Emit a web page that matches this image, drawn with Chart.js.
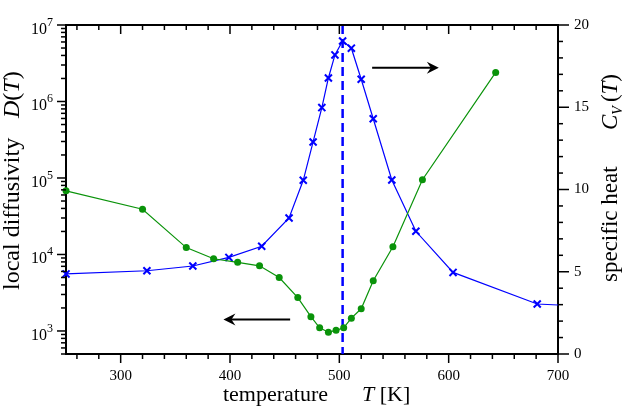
<!DOCTYPE html>
<html><head><meta charset="utf-8">
<script src="https://cdn.jsdelivr.net/npm/chart.js@4"></script>
<style>html,body{margin:0;padding:0;background:#fff;}#wrap{position:relative;width:623px;height:409px;}</style>
</head><body><div id="wrap"><canvas id="c" width="623" height="409"></canvas></div>
<script>
// ---- data ----
const cvT      = [250, 324, 366, 399, 429, 454, 467, 476, 484, 490, 496, 503, 511, 520, 531, 548, 570, 604, 681, 700];
const cvValues = [4.87, 5.06, 5.35, 5.87, 6.55, 8.27, 10.56, 12.89, 14.98, 16.78, 18.18, 19.03, 18.59, 16.70, 14.30, 10.58, 7.46, 4.96, 3.04, 2.98];
const dT       = [250, 320, 360, 385, 407, 427, 445, 462, 474, 482, 490, 497, 504, 511, 520, 531, 549, 576, 643];
const dValues  = [68000, 39000, 12300, 8800, 7900, 7100, 5000, 2730, 1540, 1100, 964, 1020, 1100, 1470, 1950, 4540, 12600, 95000, 2400000];
const xTickLabels  = [300, 400, 500, 600, 700];
const dTickLabels  = [1e3, 1e4, 1e5, 1e6, 1e7];
const cvTickLabels = [0, 5, 10, 15, 20];
const transitionT = 503;
const arrowLeft  = {fromT: 455, toT: 394, value: 1410};   // on D(T) axis
const arrowRight = {fromT: 530, toT: 591, value: 17.4};   // on C_V axis

const FONT = '"Liberation Serif", "Times New Roman", serif';
const GREEN = '#0a930a';
const BLUE = '#0000ff';

function line(ctx, x1, y1, x2, y2){ctx.beginPath();ctx.moveTo(x1,y1);ctx.lineTo(x2,y2);ctx.stroke();}
function arrow(ctx, x1, y, x2){
  ctx.save();
  ctx.strokeStyle='#000'; ctx.fillStyle='#000'; ctx.lineWidth=2;
  const dir = Math.sign(x2-x1);
  line(ctx, x1, y, x2 - dir*6, y);
  ctx.beginPath();
  ctx.moveTo(x2, y);
  ctx.lineTo(x2 - dir*12, y-6);
  ctx.lineTo(x2 - dir*8, y);
  ctx.lineTo(x2 - dir*12, y+6);
  ctx.closePath(); ctx.fill();
  ctx.restore();
}

const decorPlugin = {
  id: 'decor',
  beforeDatasetsDraw(chart){
    const ctx = chart.ctx, a = chart.chartArea, x = chart.scales.x;
    const px = x.getPixelForValue(transitionT);
    ctx.save();
    ctx.strokeStyle = BLUE; ctx.lineWidth = 2.5; ctx.setLineDash([9,5]);
    line(ctx, px, a.top, px, a.bottom);
    ctx.restore();
  },
  afterDraw(chart){
    const ctx = chart.ctx, a = chart.chartArea;
    const x = chart.scales.x, yL = chart.scales.yL, yR = chart.scales.yR;
    ctx.save();
    ctx.strokeStyle = '#000';
    ctx.lineWidth = 2;
    line(ctx, a.left-1, a.top, a.right+1, a.top);
    ctx.lineWidth = 1.5;
    // x ticks: outward at bottom, inward at top
    for (let v = 260; v <= 700; v += 20) {
      const p = x.getPixelForValue(v);
      const len = (v % 100 === 0) ? 9 : 5;
      line(ctx, p, a.bottom, p, a.bottom + len);
      line(ctx, p, a.top, p, a.top + len);
    }
    // log ticks on left, outward
    for (let e = 2; e <= 7; e++) {
      for (let m = 1; m <= 9; m++) {
        const v = m * Math.pow(10, e);
        if (v < yL.min - 1e-9 || v > yL.max * 1.0001) continue;
        const p = yL.getPixelForValue(v);
        const len = (m === 1) ? 9 : 5;
        line(ctx, a.left - len, p, a.left, p);
      }
    }
    // right ticks, outward
    for (let v = 0; v <= 20; v++) {
      const p = yR.getPixelForValue(v);
      const len = (v % 5 === 0) ? 11 : 5;
      line(ctx, a.right, p, a.right + len, p);
    }
    // log tick labels 10^n
    ctx.fillStyle = '#000';
    dTickLabels.forEach(v => {
      const p = yL.getPixelForValue(v);
      const e = Math.round(Math.log10(v));
      ctx.font = '16px ' + FONT; ctx.textAlign = 'right'; ctx.textBaseline = 'alphabetic';
      ctx.fillText('10', 47, p + 9);
      ctx.font = '12px ' + FONT; ctx.textAlign = 'left';
      ctx.fillText(String(e), 47, p + 1);
    });
    // arrows
    arrow(ctx, x.getPixelForValue(arrowLeft.fromT), yL.getPixelForValue(arrowLeft.value), x.getPixelForValue(arrowLeft.toT));
    arrow(ctx, x.getPixelForValue(arrowRight.fromT), yR.getPixelForValue(arrowRight.value), x.getPixelForValue(arrowRight.toT));

    // axis titles
    // bottom
    ctx.textBaseline = 'alphabetic';
    ctx.font = '22px ' + FONT; ctx.textAlign = 'right';
    ctx.fillText('temperature', 328, 401);
    ctx.textAlign = 'left';
    ctx.font = 'italic 22px ' + FONT;
    ctx.fillText('T', 362, 401);
    let w = ctx.measureText('T').width;
    ctx.font = '22px ' + FONT;
    ctx.fillText(' [K]', 362 + w, 401);

    // left (rotated)
    ctx.save();
    ctx.translate(19, 290); ctx.rotate(-Math.PI/2);
    ctx.font = '24px ' + FONT; ctx.textAlign = 'left';
    ctx.fillText('local diffusivity', 0, 0);
    ctx.restore();
    ctx.save();
    ctx.translate(19, 118); ctx.rotate(-Math.PI/2);
    let cx = 0;
    const pieces = [['D', true], ['(', false], ['T', true], [')', false]];
    pieces.forEach(([t, it]) => {
      ctx.font = (it ? 'italic ' : '') + '24px ' + FONT;
      ctx.fillText(t, cx, 0); cx += ctx.measureText(t).width;
    });
    ctx.restore();

    // right (rotated)
    ctx.save();
    ctx.translate(617, 282); ctx.rotate(-Math.PI/2);
    ctx.font = '23px ' + FONT; ctx.textAlign = 'left';
    ctx.fillText('specific heat', 0, 0);
    ctx.restore();
    ctx.save();
    ctx.translate(617, 130); ctx.rotate(-Math.PI/2);
    cx = 0;
    ctx.font = 'italic 23px ' + FONT; ctx.fillText('C', cx, 0); cx += ctx.measureText('C').width;
    ctx.font = 'italic 14px ' + FONT; ctx.fillText('V', cx, 5); cx += ctx.measureText('V').width + 4;
    ctx.font = '23px ' + FONT; ctx.fillText('(', cx, 0); cx += ctx.measureText('(').width;
    ctx.font = 'italic 23px ' + FONT; ctx.fillText('T', cx, 0); cx += ctx.measureText('T').width;
    ctx.font = '23px ' + FONT; ctx.fillText(')', cx, 0);
    ctx.restore();

    ctx.restore();
  }
};

const lastIdx = cvT.length - 1;
new Chart(document.getElementById('c'), {
  type: 'line',
  data: {
    datasets: [
      {
        label: 'local diffusivity D(T)',
        data: dT.map((t, i) => ({x: t, y: dValues[i]})),
        yAxisID: 'yL',
        borderColor: GREEN, backgroundColor: GREEN,
        borderWidth: 1.2, pointRadius: 3.5, pointBorderWidth: 0, pointStyle: 'circle',
        tension: 0, clip: false
      },
      {
        label: 'specific heat C_V(T)',
        data: cvT.map((t, i) => ({x: t, y: cvValues[i]})),
        yAxisID: 'yR',
        borderColor: BLUE, backgroundColor: BLUE,
        borderWidth: 1.2, pointStyle: 'crossRot',
        pointRadius: c => (c.dataIndex === lastIdx ? 0 : 5),
        pointBorderWidth: 2,
        tension: 0, clip: false
      }
    ]
  },
  options: {
    responsive: false, animation: false, devicePixelRatio: 1,
    layout: {padding: {top: 10, left: 0, right: 0, bottom: 0}},
    plugins: {legend: {display: false}, tooltip: {enabled: false}},
    scales: {
      x: {
        type: 'linear', position: 'bottom', min: 250, max: 700,
        afterBuildTicks: s => { s.ticks = xTickLabels.map(v => ({value: v})); },
        afterFit: s => { s.height = 55; },
        grid: {display: false, drawTicks: false},
        border: {display: true, color: '#000', width: 2},
        ticks: {font: {family: FONT, size: 15}, color: '#000', padding: 13, maxRotation: 0, autoSkip: false}
      },
      yL: {
        type: 'logarithmic', position: 'left', min: 500, max: 1e7,
        afterBuildTicks: s => { s.ticks = dTickLabels.map(v => ({value: v})); },
        afterFit: s => { s.width = 66; },
        grid: {display: false, drawTicks: false},
        border: {display: true, color: '#000', width: 2},
        ticks: {callback: () => '', font: {family: FONT, size: 15}}
      },
      yR: {
        type: 'linear', position: 'right', min: 0, max: 20,
        afterBuildTicks: s => { s.ticks = cvTickLabels.map(v => ({value: v})); },
        afterFit: s => { s.width = 65; },
        grid: {display: false, drawTicks: false},
        border: {display: true, color: '#000', width: 2},
        ticks: {font: {family: FONT, size: 15}, color: '#000', padding: 16, autoSkip: false}
      }
    }
  },
  plugins: [decorPlugin]
});
</script>
</body></html>
